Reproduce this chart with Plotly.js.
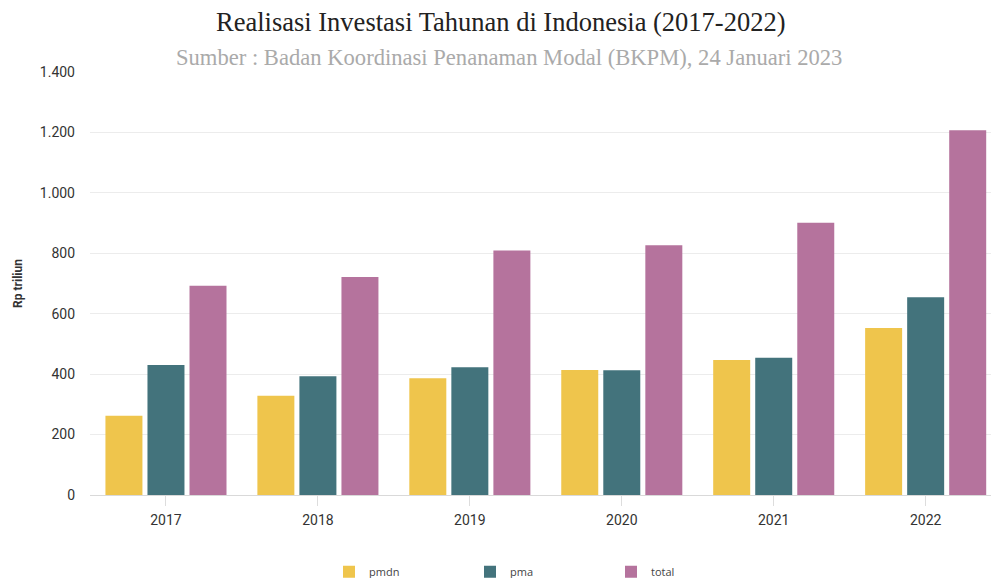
<!DOCTYPE html>
<html>
<head>
<meta charset="utf-8">
<script src="https://cdn.plot.ly/plotly-3.0.1.min.js"></script>
<style>html,body{margin:0;padding:0;background:#fff;}#chart{width:991px;height:578px;}</style>
</head>
<body>
<div id="chart"></div>
<script>
const years = ['2017', '2018', '2019', '2020', '2021', '2022'];
const pmdn = [262.3, 328.6, 386.5, 413.5, 447.1, 552.8];
const pma = [430.5, 392.7, 423.1, 412.8, 454.0, 654.4];
const total = [692.8, 721.3, 809.6, 826.3, 901.0, 1207.2];
const yTicks = [0, 200, 400, 600, 800, 1000, 1200, 1400];

const colors = {pmdn: '#EFC54C', pma: '#43737C', total: '#B5739D'};

function barTrace(name, vals, color) {
  return {
    type: 'bar', name: name, x: years, y: vals,
    marker: {color: color, line: {width: 0}},
    hoverinfo: 'x+y+name'
  };
}

const data = [
  barTrace('pmdn', pmdn, colors.pmdn),
  barTrace('pma', pma, colors.pma),
  barTrace('total', total, colors.total)
];

const layout = {
  width: 991, height: 578,
  margin: {l: 90, r: 0, t: 72, b: 83, autoexpand: false},
  paper_bgcolor: '#fff', plot_bgcolor: '#fff',
  separators: ',.',
  barmode: 'group', bargap: 0.17, bargroupgap: 0.12,
  showlegend: true,
  legend: {
    orientation: 'h', x: 0.5, xanchor: 'center', y: -0.147, yanchor: 'top',
    font: {family: 'Open Sans, sans-serif', size: 11, color: '#444'},
    entrywidth: 96, itemwidth: 30
  },
  xaxis: {
    type: 'category', range: [-0.5, 5.43],
    showgrid: false, showline: true, linecolor: '#d9d9d9', linewidth: 1,
    ticks: 'outside', ticklen: 10, tickcolor: '#dddddd', ticklabelstandoff: 2,
    tickfont: {family: 'Roboto, sans-serif', size: 14, color: '#333'},
    zeroline: false
  },
  yaxis: {
    range: [0, 1400], tickvals: yTicks, separatethousands: true,
    showgrid: true, gridcolor: '#ececec', zeroline: false, showline: false,
    ticks: '', ticklabelstandoff: 14,
    tickfont: {family: 'Roboto, sans-serif', size: 14, color: '#333'},
    title: {text: '<b>Rp triliun</b>', font: {family: 'Roboto, sans-serif', size: 12, color: '#333'}, standoff: 14}
  },
  annotations: [
    {text: 'Realisasi Investasi Tahunan di Indonesia (2017-2022)', xref: 'paper', yref: 'paper',
     x: 0.4565, y: 1, yshift: 50, xanchor: 'center', yanchor: 'middle', showarrow: false,
     font: {family: 'Liberation Serif, serif', size: 26.5, color: '#222'}},
    {text: 'Sumber : Badan Koordinasi Penanaman Modal (BKPM), 24 Januari 2023', xref: 'paper', yref: 'paper',
     x: 0.4655, y: 1, yshift: 15, xanchor: 'center', yanchor: 'middle', showarrow: false,
     font: {family: 'Liberation Serif, serif', size: 22.6, color: '#aaaaaa'}}
  ]
};

Plotly.newPlot('chart', data, layout, {displayModeBar: false, staticPlot: true});
</script>
</body>
</html>
